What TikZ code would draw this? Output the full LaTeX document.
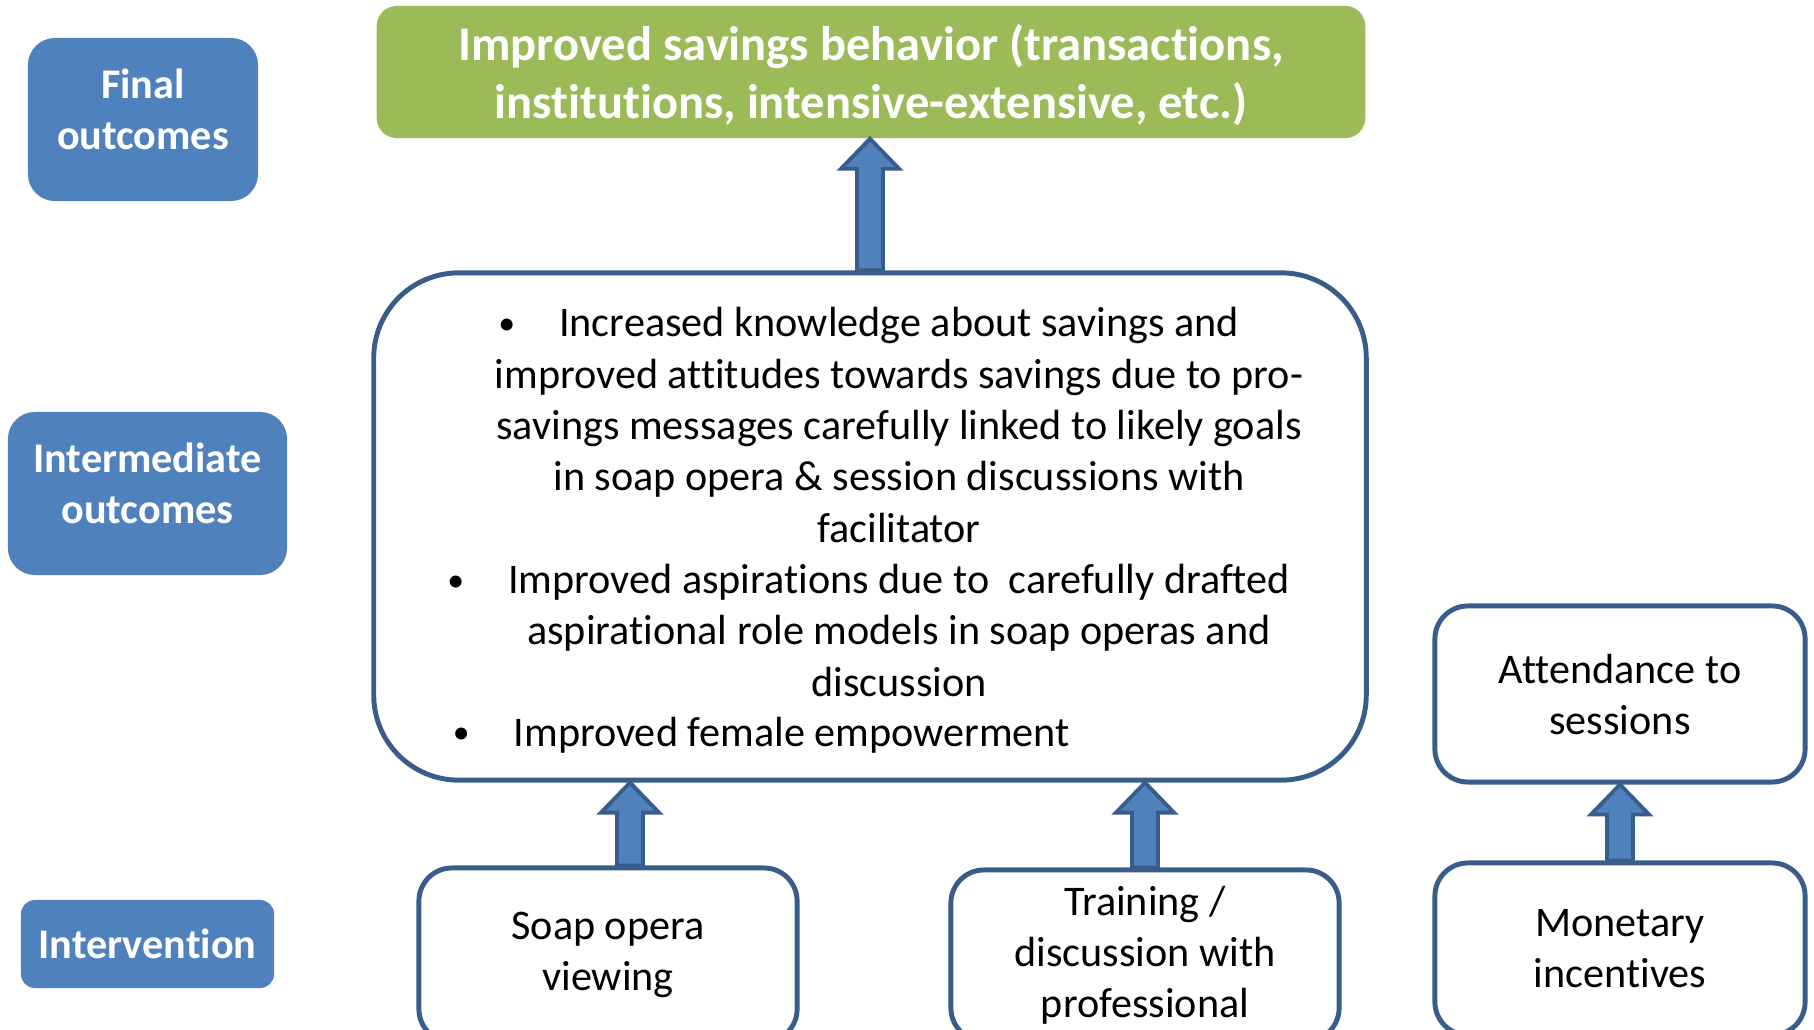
\documentclass[tikz,border=0pt]{standalone}
\usepackage{fontspec}
\setmainfont[Ligatures={NoCommon}]{Carlito}
\usetikzlibrary{positioning, calc}

\definecolor{levelblue}{HTML}{4F81BD}
\definecolor{edgeblue}{HTML}{385D8A}
\definecolor{goalgreen}{HTML}{9BBB59}

\newcommand{\dotmark}{\llap{\raisebox{0.6pt}{\scalebox{0.8}{\textbullet}}\hspace{12.5pt}}}

% block arrow from the top of one box (#1) up to the bottom of another (#2)
\newcommand{\liftarrow}[2]{%
    \draw[liftarrow] ($(#1)+(-13,0)$) -- ($(#1 |- #2)+(-13,30)$) -- ($(#1 |- #2)+(-29,30)$)
        -- (#1 |- #2) -- ($(#1 |- #2)+(29,30)$) -- ($(#1 |- #2)+(13,30)$) -- ($(#1)+(13,0)$) -- cycle;}

\begin{document}
\begin{tikzpicture}[x=0.01cm, y=-0.01cm,
    level/.style={fill=levelblue, rounded corners=0.27cm, inner sep=0pt},
    leveltext/.style={text=white, font=\fontsize{12}{14.5}\selectfont\bfseries, align=center, inner sep=0pt},
    stepbox/.style={draw=edgeblue, line width=1.4pt, fill=white, rounded corners=0.33cm, align=center, font=\fontsize{12}{14.5}\selectfont, inner sep=0pt, minimum width=3.7cm},
    liftarrow/.style={fill=levelblue, draw=edgeblue, line width=1.1pt, line join=miter}]

    \useasboundingbox (0,0) rectangle (1814,1030);

    % levels on the left
    \node[level, minimum width=2.30cm, minimum height=1.63cm] (final) at (143,119.5) {};
    \node[leveltext] (finaltext) at ([yshift=0.1cm]final) {Final\\outcomes};
    \node[level, minimum width=2.79cm, minimum height=1.63cm] (inter) at (147.5,493.5) {};
    \node[leveltext] (intertext) at ([yshift=0.1cm]inter) {Intermediate\\outcomes};
    \node[level, leveltext, minimum width=2.53cm, minimum height=0.88cm, rounded corners=0.14cm] (interv) at (147.5,944) {Intervention};

    % outcome boxes
    \node[fill=goalgreen, text=white, rounded corners=0.2cm, minimum width=9.88cm, minimum height=1.32cm, align=center,
        font=\fontsize{13.8}{16.5}\selectfont\bfseries] (goal) at (871,72) {};
    \node[text=white, align=center, font=\fontsize{13.8}{16.5}\selectfont\bfseries] (goaltext) at ([yshift=-0.03cm]goal)
        {Improved savings behavior (transactions,\\institutions, intensive-extensive, etc.)};

    \node[stepbox, minimum width=9.92cm, minimum height=5.07cm, rounded corners=0.85cm] (mid) at (870,526.5) {};
    \node[align=center, font=\fontsize{12}{14.6}\selectfont] (midtext) at (899,502) {%
        \dotmark Increased knowledge about savings and\\
        improved attitudes towards savings due to pro-\\
        savings messages carefully linked to likely goals\\
        in soap opera \& session discussions with\\
        facilitator\\
        \dotmark Improved aspirations due to\ \ carefully drafted\\
        aspirational role models in soap operas and\\
        discussion};
    \node[anchor=base west, font=\fontsize{12}{14.6}\selectfont, inner sep=0pt] (empower) at (513,746) {%
        \dotmark Improved female empowerment};

    \node[stepbox, minimum height=1.76cm] (attend) at (1620,694) {Attendance to\\sessions};

    % interventions
    \node[stepbox, minimum width=3.78cm, minimum height=1.74cm] (soap) at (608,955) {Soap opera\\viewing};
    \node[stepbox, minimum width=3.88cm, minimum height=1.71cm] (train) at (1145,955.5) {Training /\\discussion with\\professional};
    \node[stepbox, minimum height=1.72cm] (money) at (1620,949) {Monetary\\incentives};

    \coordinate (soaptop) at ([xshift=0.22cm]soap.north);

    \liftarrow{mid.north}{goal.south}
    \liftarrow{soaptop}{mid.south}
    \liftarrow{train.north}{mid.south}
    \liftarrow{money.north}{attend.south}

\end{tikzpicture}
\end{document}
